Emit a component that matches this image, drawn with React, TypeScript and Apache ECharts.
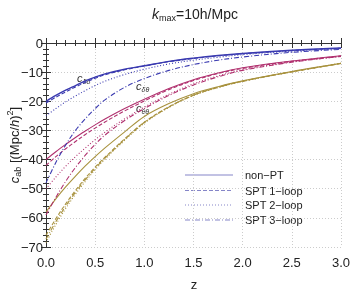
import React, { useEffect, useRef } from "react";
import * as echarts from "echarts";

const zVals = [0, 0.1, 0.2, 0.3, 0.4, 0.5, 0.6, 0.8, 1.0, 1.25, 1.5, 1.75, 2.0, 2.5, 3.0];

const ddNonPT = [-20, -18, -16.2, -14.6, -13.0, -11.7, -10.6, -9.0, -7.8, -6.3, -5.2, -4.3, -3.6, -2.5, -1.7];
const dd1loop = [-20.6, -18.6, -16.8, -15.1, -13.5, -12.1, -10.9, -9.2, -7.9, -6.4, -5.3, -4.4, -3.7, -2.6, -1.8];
const dd2loop = [-25, -22.5, -20.2, -18.2, -16.3, -14.6, -13.1, -10.8, -9.0, -7.2, -5.9, -4.9, -4.0, -2.8, -1.9];
const dd3loop = [-48, -41, -35, -30, -26, -22.5, -19.5, -15.2, -12.2, -9.4, -7.4, -5.9, -4.8, -3.2, -2.2];

const dtNonPT = [-40, -37.3, -34.8, -32.4, -30.2, -28.1, -26.1, -22.5, -19.3, -15.6, -12.6, -10.3, -8.5, -6.2, -4.4];
const dt1loop = [-42, -39, -36.3, -33.8, -31.4, -29.2, -27.1, -23.3, -19.9, -16.0, -12.9, -10.5, -8.7, -6.3, -4.5];
const dt2loop = [-50, -46, -42.3, -39, -36, -33.2, -30.6, -26, -22, -17.6, -14.0, -11.3, -9.2, -6.5, -4.6];
const dt3loop = [-59, -53, -47.5, -42.7, -38.5, -34.8, -31.6, -26.6, -22.5, -18.0, -14.4, -11.6, -9.4, -6.6, -4.6];

const ttNonPT = [-58, -53.5, -49.4, -45.7, -42.2, -39.0, -36.0, -30.5, -25.2, -20.8, -17.4, -15.0, -13.0, -9.8, -7.0];
const tt1loop = [-66, -60.3, -55.2, -50.6, -46.4, -42.6, -39.2, -32.9, -27.2, -21.9, -17.9, -15.2, -13.1, -9.9, -7.0];
const tt2loop = [-68.5, -62.3, -56.8, -51.9, -47.5, -43.5, -39.9, -33.4, -27.5, -22.1, -18.0, -15.3, -13.2, -9.9, -7.0];
const tt3loop = [-67.3, -61.3, -56.0, -51.2, -46.9, -43.0, -39.5, -33.1, -27.3, -22.0, -17.9, -15.2, -13.1, -9.9, -7.0];

const xTicks = [0, 0.5, 1.0, 1.5, 2.0, 2.5, 3.0];
const yTicks = [0, -10, -20, -30, -40, -50, -60, -70];

const legendNames = ["non\u2212PT", "SPT 1\u2212loop", "SPT 2\u2212loop", "SPT 3\u2212loop"];

const BLUE = "#3a3ab0";
const MAG = "#b0306e";
const OLIVE = "#a8923e";
const LEG = "#8585c8";

const styles: Record<string, any> = {
  solid: "solid",
  dashed: [4, 2],
  dotted: [1, 2],
  dashdot: [5, 2, 1, 2],
};

export default function App() {
  const ref = useRef<HTMLDivElement>(null);
  useEffect(() => {
    if (!ref.current) return;
    const chart = echarts.init(ref.current, null, { renderer: "svg" });
    const mk = (vals: number[], color: string, type: any, w = 1.1) => ({
      type: "line",
      data: zVals.map((z, i) => [z, vals[i]]),
      smooth: 0.35,
      showSymbol: false,
      symbol: "none",
      lineStyle: { color, width: w, type },
      silent: true,
    });
    const font = "'Liberation Sans', Arial, sans-serif";
    const axisCommon = {
      axisLine: { show: true, lineStyle: { color: "#333", width: 1 } },
      axisTick: { show: true, inside: true, length: 5, lineStyle: { color: "#333" } },
      minorTick: { show: true, splitNumber: 5, length: 3, lineStyle: { color: "#333" } },
    };
    const legY = [175, 190.5, 205, 220];
    const legTypes = [null, [4, 2], [1, 2], [5, 2, 1, 2]];
    const graphics: any[] = [];
    legY.forEach((y, i) => {
      graphics.push({
        type: "line",
        shape: { x1: 185, y1: y, x2: 233, y2: y },
        style: { stroke: LEG, lineWidth: 1, lineDash: legTypes[i] },
      });
      graphics.push({
        type: "text",
        x: 245,
        y,
        style: { text: legendNames[i], font: `11px ${font}`, fill: "#222", textVerticalAlign: "middle" },
      });
    });
    const subRich = {
      c: { fontStyle: "italic", fontSize: 11, fontFamily: font, fill: "#333" },
      s: { fontStyle: "italic", fontSize: 7, fontFamily: font, fill: "#333", padding: [7, 0, 0, 0] },
    };
    graphics.push({ type: "text", x: 77, y: 78, style: { text: "{c|c}{s|\u03b4\u03b4}", rich: subRich, textVerticalAlign: "middle" } });
    graphics.push({ type: "text", x: 136, y: 86, style: { text: "{c|c}{s|\u03b4\u03b8}", rich: subRich, textVerticalAlign: "middle" } });
    graphics.push({ type: "text", x: 136, y: 108, style: { text: "{c|c}{s|\u03b8\u03b8}", rich: subRich, textVerticalAlign: "middle" } });
    graphics.push({
      type: "text",
      x: 195,
      y: 14,
      style: {
        text: "{k|k}{s|max}{n|=10h/Mpc}",
        textAlign: "center",
        textVerticalAlign: "middle",
        rich: {
          k: { fontStyle: "italic", fontSize: 14, fontFamily: font, fill: "#222" },
          s: { fontSize: 9, fontFamily: font, fill: "#222", padding: [8, 0, 0, 0] },
          n: { fontSize: 14, fontFamily: font, fill: "#222" },
        },
      },
    });
    graphics.push({
      type: "text",
      x: 14,
      y: 145,
      rotation: Math.PI / 2,
      style: {
        text: "{c|c}{s|ab}{n| [(Mpc/}{h|h}{n|)}{p|2}{n|]}",
        textAlign: "center",
        textVerticalAlign: "middle",
        rich: {
          c: { fontStyle: "italic", fontSize: 13, fontFamily: font, fill: "#222" },
          s: { fontSize: 9, fontFamily: font, fill: "#222", padding: [8, 0, 0, 0] },
          n: { fontSize: 13, fontFamily: font, fill: "#222" },
          h: { fontStyle: "italic", fontSize: 13, fontFamily: font, fill: "#222" },
          p: { fontSize: 9, fontFamily: font, fill: "#222", padding: [0, 0, 9, 0] },
        },
      },
    });
    graphics.push({
      type: "text",
      x: 194,
      y: 284,
      style: { text: "z", font: `13px ${font}`, fill: "#222", textAlign: "center", textVerticalAlign: "middle" },
    });

    chart.setOption({
      animation: false,
      grid: { left: 46, right: 11, top: 43, bottom: 45 },
      xAxis: [
        {
          type: "value",
          min: 0,
          max: 3,
          interval: 0.5,
          ...axisCommon,
          axisLabel: {
            color: "#222",
            fontSize: 13,
            fontFamily: font,
            margin: 9,
            formatter: (v: number) => (xTicks.includes(v) ? v.toFixed(1) : ""),
          },
          splitLine: { show: true, lineStyle: { color: "#ccc", type: [1, 2], width: 1 } },
        },
        {
          type: "value",
          position: "top",
          min: 0,
          max: 3,
          interval: 0.5,
          ...axisCommon,
          axisLabel: { show: false },
          splitLine: { show: false },
        },
      ],
      yAxis: [
        {
          type: "value",
          min: -70,
          max: 0,
          interval: 10,
          ...axisCommon,
          axisLabel: {
            color: "#222",
            fontSize: 13,
            fontFamily: font,
            margin: 3,
            formatter: (v: number) => (yTicks.includes(v) ? (v < 0 ? "\u2212" + Math.abs(v) : String(v)) : ""),
          },
          splitLine: { show: true, lineStyle: { color: "#ccc", type: [1, 2], width: 1 } },
        },
        {
          type: "value",
          position: "right",
          min: -70,
          max: 0,
          interval: 10,
          ...axisCommon,
          axisLabel: { show: false },
          splitLine: { show: false },
        },
      ],
      series: [
        mk(ttNonPT, OLIVE, styles.solid),
        mk(tt1loop, OLIVE, styles.dashed),
        mk(tt2loop, OLIVE, styles.dotted),
        mk(tt3loop, OLIVE, styles.dashdot),
        mk(dtNonPT, MAG, styles.solid),
        mk(dt1loop, MAG, styles.dashed),
        mk(dt2loop, MAG, styles.dotted),
        mk(dt3loop, MAG, styles.dashdot),
        mk(ddNonPT, BLUE, styles.solid, 1.4),
        mk(dd1loop, BLUE, styles.dashed),
        mk(dd2loop, BLUE, styles.dotted),
        mk(dd3loop, BLUE, styles.dashdot),
      ],
      graphic: graphics,
    });
    return () => chart.dispose();
  }, []);
  return <div ref={ref} style={{ position: "fixed", left: 0, top: 0, width: 353, height: 292 }} />;
}
